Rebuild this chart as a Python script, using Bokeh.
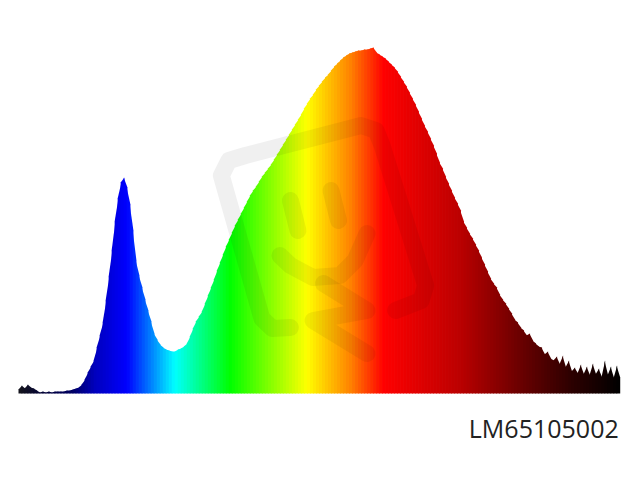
import numpy as np
from bokeh.plotting import figure
from bokeh.models import ColumnDataSource
from bokeh.core.properties import value
from bokeh.embed import file_html
from bokeh.resources import INLINE

# relative intensity, one reading every 2 nm from 380 nm to 780 nm
intensity = [
    4,8,5,9,6,5,3,1,2,1,2,1,2,2,2,2,3,
    3,4,5,6,9,14,21,27,33,46,58,71,93,117,143,172,195,211,216,206,189,163,133,118,106,94,83,
    72,60,54,49,46,44,43,42,42,44,45,47,50,57,65,72,77,
    82,90,98,106,114,123,131,139,147,154,161,168,174,180,186,192,198,203,207,212,217,221,225,229,234,
    239,244,249,254,259,264,269,274,279,285,290,295,299,304,308,312,316,319,323,327,330,333,336,338,340,
    341,342,343,343,344,344,345,346,341,339,337,335,332,329,326,322,317,312,307,301,295,289,282,275,268,
    262,255,248,240,231,225,217,210,203,196,190,183,172,166,160,155,149,143,136,129,122,115,110,106,99,
    94,90,85,80,74,71,
    66,63,58,60,53,50,47,46,39,42,35,33,37,29,38,26,33,22,26,20,29,19,27,18,30,19,25,16,33,18,27,15,28,16,
]
wavelength = [380 + 2 * i for i in range(len(intensity))]
stop_nm = [380, 398, 415, 430, 451, 483, 520, 571, 600, 622, 671, 714, 747, 780]
stop_r = [20, 0, 0, 0, 0, 0, 0, 255, 255, 255, 190, 105, 45, 0]
stop_g = [20, 0, 0, 0, 0, 255, 255, 255, 130, 0, 0, 0, 0, 0]
stop_b = [30, 60, 100, 190, 255, 255, 0, 0, 0, 0, 0, 0, 0, 0]
label = "LM65105002"

# watermark paths, in the same scale as the chart
mark_x = [
    [561, 549, 542, 515, 520, 531, 608, 618, 622, 651, 648, 631],
    [561, 566],
    [588, 593],
    [554, 561, 576, 594, 604, 612],
    [583, 612, 576, 612],
]
mark_y = [
    [66, 65, 75, 218, 233, 238, 268, 263, 248, 108, 93, 83],
    [193, 163],
    [203, 173],
    [138, 128, 116, 118, 133, 160],
    [110, 83, 73, 40],
]

colors = [
    "#%02x%02x%02x" % (int(np.interp(w, stop_nm, stop_r)),
                       int(np.interp(w, stop_nm, stop_g)),
                       int(np.interp(w, stop_nm, stop_b)))
    for w in wavelength
]

# one slanted column from each reading to the next; each overlaps the next slightly
xs = [[wavelength[i], wavelength[i + 1] + 0.5, wavelength[i + 1] + 0.5, wavelength[i]]
      for i in range(len(wavelength) - 1)]
ys = [[0, 0, intensity[i + 1], intensity[i]] for i in range(len(wavelength) - 1)]

p = figure(width=624, height=464, output_backend="svg", toolbar_location=None,
           x_range=(368.02, 783.35), y_range=(-71, 393),
           min_border=0, outline_line_color=None, background_fill_color="white")
p.axis.visible = False
p.grid.visible = False

src = ColumnDataSource(dict(xs=xs, ys=ys, c=colors[:-1]))
p.patches(xs="xs", ys="ys", source=src, fill_color="c", line_color=None)
p.multi_line(mark_x, mark_y, line_color="black", line_alpha=0.06, line_width=17,
             line_join="round", line_cap="round")
p.text(x=[779.5], y=[-34], text=[label], text_align="right", text_baseline="alphabetic",
       text_font=value("Open Sans"), text_font_size="25px", text_color="#222222")

open("out.html", "w").write(file_html(p, INLINE))
